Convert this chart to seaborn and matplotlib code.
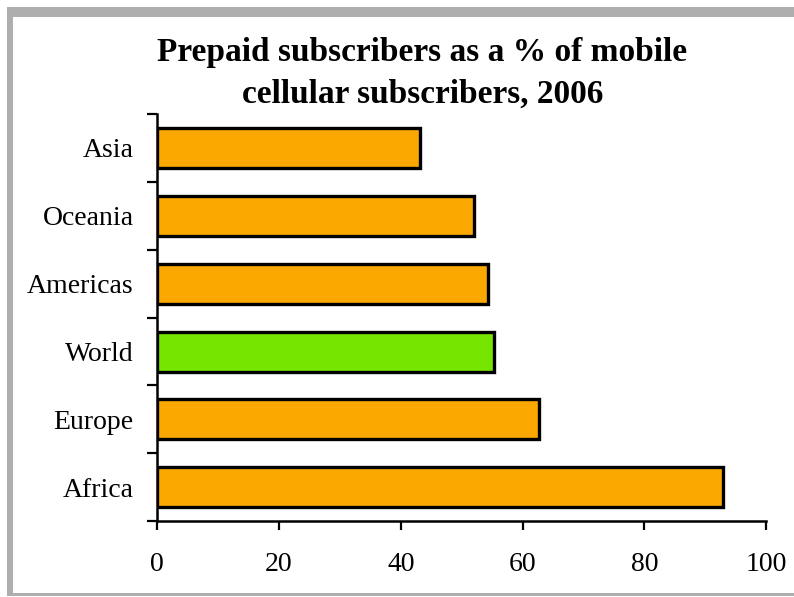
import matplotlib
matplotlib.use("Agg")
import matplotlib.pyplot as plt
import seaborn as sns
import pandas as pd
from matplotlib.patches import Rectangle

# === Data ===
regions = ["Asia", "Oceania", "Americas", "World", "Europe", "Africa"]
prepaid_pct = [43.2, 52.1, 54.3, 55.3, 62.7, 92.9]
bar_colors = ["#FBA800", "#FBA800", "#FBA800", "#76E600", "#FBA800", "#FBA800"]
x_ticks = [0, 20, 40, 60, 80, 100]

df = pd.DataFrame({"Region": regions, "Pct": prepaid_pct})

sns.set_style("white")
plt.rcParams["font.family"] = ["Liberation Serif", "DejaVu Serif"]
plt.rcParams["text.color"] = "black"
plt.rcParams["xtick.labelcolor"] = "black"
plt.rcParams["ytick.labelcolor"] = "black"

fig = plt.figure(figsize=(7.94, 5.97), dpi=100)
ax = fig.add_axes([0.198, 0.127, 0.767, 0.682])

sns.barplot(
    data=df, x="Pct", y="Region", hue="Region", palette=bar_colors,
    legend=False, width=0.59, edgecolor="black", linewidth=2.4,
    saturation=1, ax=ax,
)

ax.set_xlim(0, 100)
ax.set_ylim(5.5, -0.5)
ax.set_xticks(x_ticks)
ax.set_xticklabels([str(t) for t in x_ticks], fontsize=20)
ax.set_xlabel("")
ax.set_ylabel("")
ax.tick_params(axis="x", bottom=True, direction="out", length=6.5, width=1.6, pad=16,
               color="black", labelcolor="black")
ax.tick_params(axis="y", which="major", left=False, length=0, pad=17, labelsize=20,
               labelcolor="black")
ax.set_yticks([i + 0.5 for i in range(-1, 6)], minor=True)
ax.tick_params(axis="y", which="minor", left=True, direction="out", length=7, width=1.6, color="black")

for side in ["top", "right"]:
    ax.spines[side].set_visible(False)
for side in ["left", "bottom"]:
    ax.spines[side].set_color("black")
    ax.spines[side].set_linewidth(1.8)

fig.text(0.532, 0.877, "Prepaid subscribers as a % of mobile\ncellular subscribers, 2006",
         ha="center", va="center", fontsize=24, fontweight="bold", linespacing=1.45,
         color="black")

# gray frame around the picture
fig.patches.append(Rectangle((7 / 794, 1 - 17 / 597), 1, 10 / 597, transform=fig.transFigure,
                             facecolor="#AEAEAE", edgecolor="none"))
fig.patches.append(Rectangle((7 / 794, 1 / 597), 6 / 794, 1 - 18 / 597, transform=fig.transFigure,
                             facecolor="#AEAEAE", edgecolor="none"))
fig.patches.append(Rectangle((7 / 794, 1 / 597), 1, 3 / 597, transform=fig.transFigure,
                             facecolor="#AEAEAE", edgecolor="none"))

fig.savefig("out.png", dpi=100)
